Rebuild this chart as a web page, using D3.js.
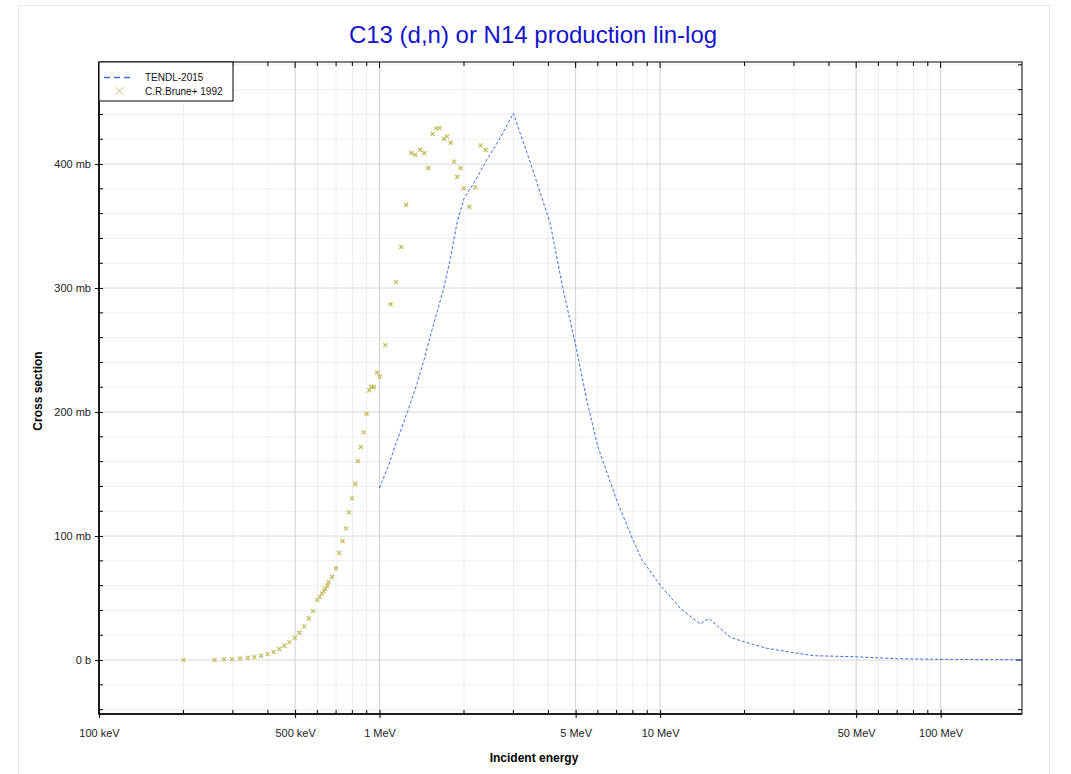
<!DOCTYPE html>
<html>
<head>
<meta charset="utf-8">
<script src="https://cdn.jsdelivr.net/npm/d3@7"></script>
<style>
  body { margin: 0; background: #fff; }
  svg { font-family: "Liberation Sans", Arial, sans-serif; }
</style>
</head>
<body>
<div id="chart-container"></div>
<script>
// C.R.Brune+ 1992 (energy in MeV, cross section in mb)
const bruneEnergy = [0.200, 0.258, 0.279, 0.298, 0.318, 0.339, 0.358, 0.378, 0.399, 0.419,
  0.439, 0.458, 0.477, 0.499, 0.518, 0.539, 0.559, 0.579, 0.600, 0.613,
  0.623, 0.633, 0.640, 0.651, 0.658, 0.678, 0.699, 0.718, 0.738, 0.759,
  0.778, 0.797, 0.819, 0.837, 0.858, 0.877, 0.899, 0.919, 0.934, 0.955,
  0.979, 1.000, 1.048, 1.095, 1.144, 1.195, 1.245, 1.298, 1.341, 1.394,
  1.444, 1.492, 1.546, 1.594, 1.637, 1.698, 1.740, 1.792, 1.843, 1.893,
  1.945, 1.994, 2.089, 2.195, 2.293, 2.389];
const bruneSigma = [0.0, 0.2, 0.6, 0.8, 1.4, 1.9, 2.4, 3.5, 4.8, 6.5,
  8.9, 11.5, 14.5, 17.7, 22.0, 27.2, 33.5, 39.5, 48.5, 51.0,
  53.8, 55.6, 57.3, 59.9, 62.9, 67.2, 74.0, 86.3, 96.0, 106.2,
  119.1, 130.4, 142.2, 160.5, 171.8, 183.6, 198.6, 217.5, 220.4, 220.2,
  232.0, 228.5, 254.0, 286.9, 304.8, 333.1, 367.2, 408.9, 407.5, 411.5,
  408.9, 396.8, 424.2, 428.8, 429.0, 420.4, 422.3, 417.2, 401.9, 389.8,
  396.8, 380.4, 365.6, 381.2, 415.1, 411.3];

// TENDL-2015 (energy in MeV, cross section in mb)
const tendlEnergy = [1.0, 1.08, 1.15, 1.26, 1.36, 1.44, 1.52, 1.6, 1.69, 1.79, 1.89, 2.0, 2.2,
  2.42, 2.66, 3.0, 3.18, 3.45, 4.06, 4.5, 5.0, 5.5, 6.0, 7.0,
  8.0, 8.63, 9.0, 10.0, 11.8, 13.9, 14.9, 17.8, 19.9, 24.1,
  30.0, 35.4, 49.1, 70.1, 99.0, 195];
const tendlSigma = [138.7, 158.0, 176.0, 200.5, 223.0, 242.0, 262.0, 280.0, 299.0, 324.0, 353.0, 372.3, 387.0,
  404.0, 419.0, 440.9, 424.0, 401.0, 352.0, 300.0, 254.0, 208.0, 172.0, 129.0,
  97.0, 80.6, 75.0, 60.5, 41.7, 29.0, 33.6, 18.3, 14.8, 9.4,
  5.9, 3.5, 2.7, 1.1, 0.6, 0.2];

const xLabelTicks = [0.1, 0.5, 1, 5, 10, 50, 100];
const xLabelText = ['100 keV', '500 keV', '1 MeV', '5 MeV', '10 MeV', '50 MeV', '100 MeV'];
const yLabelTicks = [0, 100, 200, 300, 400];
const yLabelText = ['0 b', '100 mb', '200 mb', '300 mb', '400 mb'];

const W = 1071, H = 774;
const margin = {left: 99, top: 62, right: W - 1022, bottom: H - 714};
const innerW = W - margin.left - margin.right;
const innerH = H - margin.top - margin.bottom;

const svg = d3.select('#chart-container').append('svg')
  .attr('width', W)
  .attr('height', H);

// outer frame
svg.append('rect')
  .attr('x', 18.5).attr('y', 5.5)
  .attr('width', 1031).attr('height', H)
  .attr('fill', '#fff')
  .attr('stroke', '#e6e6e6');

const x = d3.scaleLog().domain([0.1, 195]).range([0, innerW]);
const y = d3.scaleLinear().domain([-43.5, 482.3]).range([innerH, 0]);

// minor x ticks 2..9 per decade
const xMinor = [];
[0.1, 1, 10, 100].forEach(d => {
  for (let k = 2; k <= 9; k++) {
    const v = k * d;
    if (v <= x.domain()[1] && !xLabelTicks.includes(+v.toFixed(6))) xMinor.push(v);
  }
});
const yMinor = d3.range(-40, 481, 20).filter(v => v % 100 !== 0);

const g = svg.append('g')
  .attr('transform', 'translate(' + margin.left + ',' + margin.top + ')');

//grid
g.append('g').selectAll('line')
  .data(xMinor).enter().append('line')
  .attr('x1', d => x(d)).attr('x2', d => x(d))
  .attr('y1', 0).attr('y2', innerH)
  .attr('stroke', '#ededed');
g.append('g').selectAll('line')
  .data(yMinor).enter().append('line')
  .attr('x1', 0).attr('x2', innerW)
  .attr('y1', d => y(d)).attr('y2', d => y(d))
  .attr('stroke', '#ededed');
g.append('g').selectAll('line')
  .data(xLabelTicks).enter().append('line')
  .attr('x1', d => x(d)).attr('x2', d => x(d))
  .attr('y1', 0).attr('y2', innerH)
  .attr('stroke', '#cfcfcf');
g.append('g').selectAll('line')
  .data(yLabelTicks).enter().append('line')
  .attr('x1', 0).attr('x2', innerW)
  .attr('y1', d => y(d)).attr('y2', d => y(d))
  .attr('stroke', '#d8d8d8');

// axes
const xAxis = d3.axisBottom(x)
  .tickValues(xLabelTicks)
  .tickFormat((d, i) => xLabelText[i])
  .tickSizeInner(4).tickSizeOuter(0);
const xAxisG = g.append('g')
  .attr('transform', 'translate(0,' + innerH + ')')
  .call(xAxis);
xAxisG.selectAll('.tick line').attr('y1', -4).attr('stroke', '#000');
xAxisG.selectAll('.tick text').attr('y', 15).attr('font-size', 11).attr('fill', '#222');
xAxisG.select('.domain').remove();

const yAxis = d3.axisLeft(y)
  .tickValues(yLabelTicks)
  .tickFormat((d, i) => yLabelText[i])
  .tickSizeInner(4).tickSizeOuter(0);
const yAxisG = g.append('g').call(yAxis);
yAxisG.selectAll('.tick line').attr('x1', 4).attr('stroke', '#000');
yAxisG.selectAll('.tick text').attr('x', -8).attr('font-size', 11).attr('fill', '#222');
yAxisG.select('.domain').remove();

// minor ticks all sides
const tickG = g.append('g').attr('stroke', '#000');
xMinor.forEach(v => {
  tickG.append('line').attr('x1', x(v)).attr('x2', x(v)).attr('y1', innerH).attr('y2', innerH - 4);
  tickG.append('line').attr('x1', x(v)).attr('x2', x(v)).attr('y1', 0).attr('y2', 4);
});
xLabelTicks.forEach(v => {
  tickG.append('line').attr('x1', x(v)).attr('x2', x(v)).attr('y1', 0).attr('y2', 6);
});
yMinor.forEach(v => {
  tickG.append('line').attr('x1', 0).attr('x2', 4).attr('y1', y(v)).attr('y2', y(v));
  tickG.append('line').attr('x1', innerW).attr('x2', innerW - 4).attr('y1', y(v)).attr('y2', y(v));
});
yLabelTicks.forEach(v => {
  tickG.append('line').attr('x1', innerW).attr('x2', innerW - 6).attr('y1', y(v)).attr('y2', y(v));
});

// frame
g.append('rect')
  .attr('width', innerW).attr('height', innerH)
  .attr('fill', 'none').attr('stroke', '#000');
g.append('path')
  .attr('d', 'M0,0 V' + innerH + ' H' + innerW)
  .attr('fill', 'none').attr('stroke', '#000').attr('stroke-width', 1.5);

// TENDL line
const tendl = tendlEnergy.map((e, i) => ({x: e, y: tendlSigma[i]}));
const line = d3.line()
  .x(d => x(d.x))
  .y(d => y(d.y));
g.append('path')
  .attr('d', line(tendl))
  .attr('fill', 'none')
  .attr('stroke', '#3b6ae8')
  .attr('stroke-width', 1)
  .attr('stroke-dasharray', '3,2');

// Brune points
const cross = s => 'M' + (-s) + ',' + (-s) + 'L' + s + ',' + s + 'M' + (-s) + ',' + s + 'L' + s + ',' + (-s);
const brune = bruneEnergy.map((e, i) => ({x: e, y: bruneSigma[i]}));
g.append('g').selectAll('path')
  .data(brune).enter().append('path')
  .attr('transform', d => 'translate(' + x(d.x) + ',' + y(d.y) + ')')
  .attr('d', cross(2))
  .attr('stroke', '#c2bb5a')
  .attr('stroke-width', 1.2)
  .attr('fill', 'none');

// legend
const legend = g.append('g');
legend.append('rect')
  .attr('x', 0).attr('y', 0)
  .attr('width', 134).attr('height', 39)
  .attr('fill', '#fff').attr('stroke', '#000');
legend.append('line')
  .attr('x1', 5).attr('x2', 32).attr('y1', 15.5).attr('y2', 15.5)
  .attr('stroke', '#3b6ae8').attr('stroke-width', 1.5)
  .attr('stroke-dasharray', '6,4');
legend.append('text')
  .attr('x', 46).attr('y', 19).attr('font-size', 10).attr('fill', '#111')
  .text('TENDL-2015');
legend.append('path')
  .attr('transform', 'translate(20.5,29)')
  .attr('d', cross(4))
  .attr('stroke', '#c2bb5a').attr('stroke-width', 0.9).attr('fill', 'none');
legend.append('text')
  .attr('x', 46).attr('y', 33).attr('font-size', 10).attr('fill', '#111')
  .text('C.R.Brune+ 1992');

// title & axis titles
svg.append('text')
  .attr('x', 533).attr('y', 43)
  .attr('text-anchor', 'middle')
  .attr('font-size', 24)
  .attr('fill', '#1414cc')
  .text('C13 (d,n) or N14 production lin-log');
svg.append('text')
  .attr('x', 534).attr('y', 762)
  .attr('text-anchor', 'middle')
  .attr('font-size', 12).attr('font-weight', 'bold')
  .text('Incident energy');
svg.append('text')
  .attr('transform', 'translate(42,391) rotate(-90)')
  .attr('text-anchor', 'middle')
  .attr('font-size', 12).attr('font-weight', 'bold')
  .text('Cross section');
</script>
</body>
</html>
